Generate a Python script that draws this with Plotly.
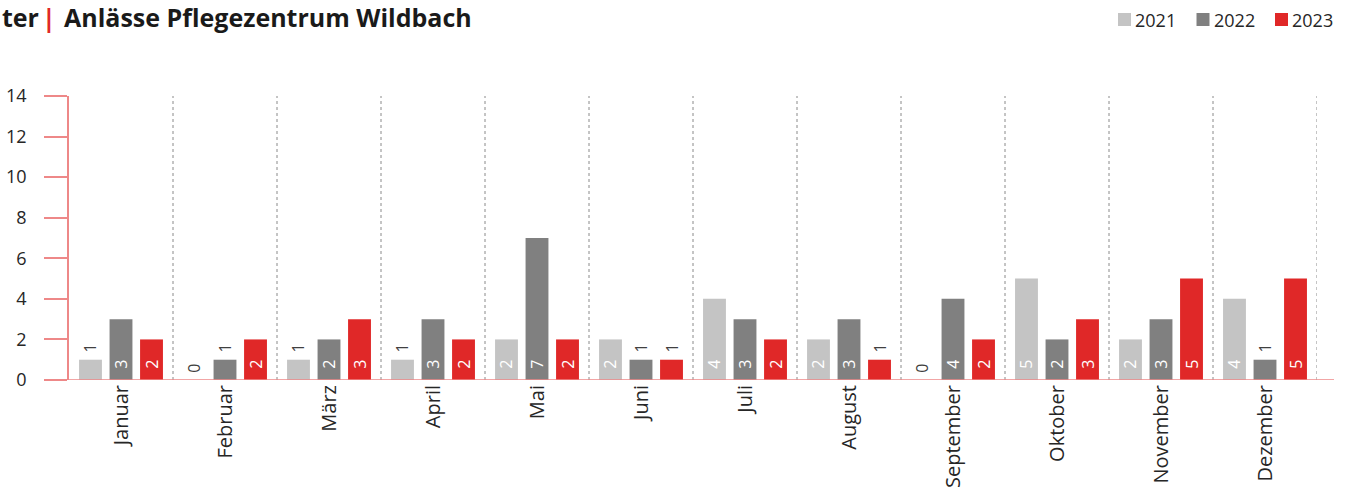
import plotly.graph_objects as go

months = ["Januar", "Februar", "März", "April", "Mai", "Juni", "Juli",
          "August", "September", "Oktober", "November", "Dezember"]
years = ["2021", "2022", "2023"]
values_2021 = [1, 0, 1, 1, 2, 2, 4, 2, 0, 5, 2, 4]
values_2022 = [3, 1, 2, 3, 7, 1, 3, 3, 4, 2, 3, 1]
values_2023 = [2, 2, 3, 2, 2, 1, 2, 1, 2, 3, 5, 5]
y_ticks = [0, 2, 4, 6, 8, 10, 12, 14]

series = [values_2021, values_2022, values_2023]
colors = ["#C4C4C4", "#808080", "#E02828"]
axis_red = "#EE8888"
font_family = "Open Sans, Noto Sans, sans-serif"

W, H = 1350, 494
L, R, T, B = 69, 33, 96, 114
PW, PH = W - L - R, H - T - B


def px_x(px):
    return (px - L) / PW


def px_y(py):
    return (H - B - py) / PH


fig = go.Figure()
for name, vals, col in zip(years, series, colors):
    inside = [v >= 2 for v in vals]
    fig.add_trace(go.Bar(
        x=months, y=vals, name=name, marker=dict(color=col, line=dict(width=0)),
        text=[("\u00a0\u00a0" if ins else "\u00a0") + str(v) for v, ins in zip(vals, inside)],
        textposition=["inside" if ins else "outside" for ins in inside],
        insidetextanchor="start", textangle=-90, constraintext="none",
        insidetextfont=dict(color="white", size=16, family=font_family),
        outsidetextfont=dict(color="#404040", size=16, family=font_family),
        cliponaxis=False, showlegend=False,
    ))

# dotted separators between months
for i in range(len(months)):
    fig.add_shape(type="line", xref="x", yref="y", x0=i + 0.5, x1=i + 0.5,
                  y0=0, y1=14.2, line=dict(color="#8A8A8A", width=1, dash="dot"))

# baseline extending past the plot area
fig.add_shape(type="line", xref="paper", yref="y", x0=px_x(46), x1=px_x(1334),
              y0=0, y1=0, line=dict(color=axis_red, width=1.5))

# title
title_font = dict(family=font_family, size=25, color="#1A1A1A", weight="bold")
fig.add_annotation(xref="paper", yref="paper", x=px_x(41), y=px_y(17), xanchor="right",
                   yanchor="middle", text="ter", showarrow=False, font=title_font)
fig.add_annotation(xref="paper", yref="paper", x=px_x(49), y=px_y(17), xanchor="center",
                   yanchor="middle", text="|", showarrow=False,
                   font=dict(family=font_family, size=25, color="#E02828", weight="bold"))
fig.add_annotation(xref="paper", yref="paper", x=px_x(62), y=px_y(17), xanchor="left",
                   yanchor="middle", text="Anlässe Pflegezentrum Wildbach", showarrow=False,
                   font=title_font)

# legend: square swatches with year labels
for k, (name, col) in enumerate(zip(years, colors)):
    x0 = 1118 + k * 78.5
    fig.add_shape(type="rect", xref="paper", yref="paper",
                  x0=px_x(x0), x1=px_x(x0 + 13), y0=px_y(26), y1=px_y(13),
                  fillcolor=col, line=dict(width=0))
    fig.add_annotation(xref="paper", yref="paper", x=px_x(x0 + 15), y=px_y(19.5),
                       xanchor="left", yanchor="middle", text=name, showarrow=False,
                       font=dict(family=font_family, size=18, color="#262626"))

fig.update_layout(
    width=W, height=H,
    margin=dict(l=L, r=R, t=T, b=B, autoexpand=False),
    paper_bgcolor="white", plot_bgcolor="white",
    barmode="group", bargap=0.12, bargroupgap=0.25,
    font=dict(family=font_family, color="#262626"),
    showlegend=False,
    xaxis=dict(tickangle=-90, showgrid=False, showline=False, ticks="",
               tickfont=dict(size=20, color="#262626"), range=[-0.5, 11.5]),
    yaxis=dict(range=[0, 14], tickvals=y_ticks, showgrid=False, zeroline=False,
               showline=True, linecolor=axis_red, linewidth=1.5,
               ticks="outside", ticklen=23, tickcolor=axis_red, tickwidth=1.5,
               tickfont=dict(size=18, color="#262626"), ticklabelstandoff=14),
)

fig.write_html("out.html")
